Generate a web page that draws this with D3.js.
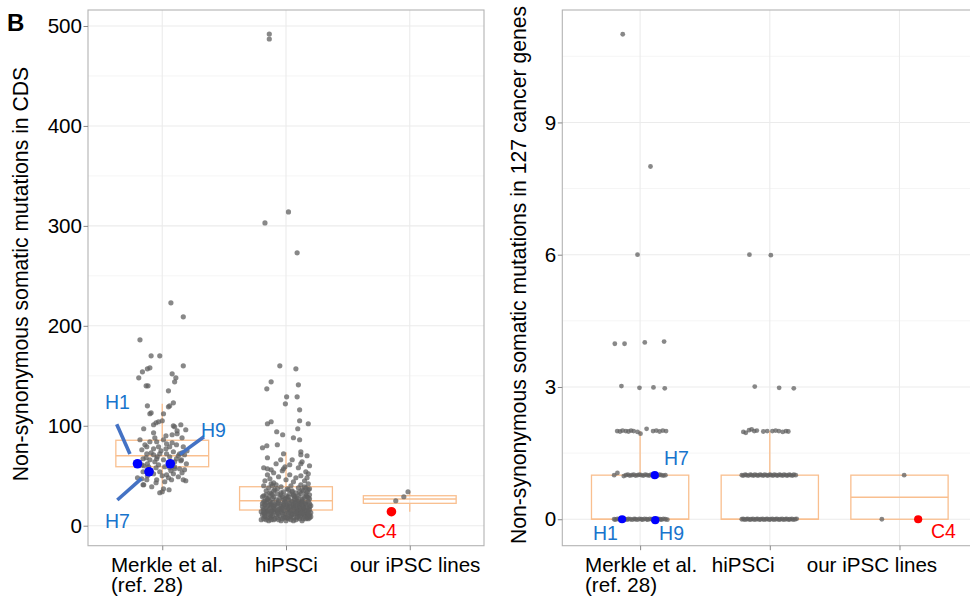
<!DOCTYPE html>
<html><head><meta charset="utf-8">
<script src="https://cdn.jsdelivr.net/npm/d3@7"></script>
<style>
body{margin:0;background:#fff;}
text{font-family:"Liberation Sans", Arial, sans-serif;}
</style></head><body>
<svg id="c" width="970" height="598"></svg>
<script>
// ---------- DATA ----------
const categories = [["Merkle et al.", "(ref. 28)"], ["hiPSCi"], ["our iPSC lines"]];
const cdsTicks = [0, 100, 200, 300, 400, 500];
const cdsMinor = [50, 150, 250, 350, 450];
const cancerTicks = [0, 3, 6, 9];
const cancerMinor = [1.5, 4.5, 7.5, 10.5];

// box stats: [lower whisker, Q1, median, Q3, upper whisker]
const cdsBox = [[33, 59, 70, 85.5, 122], [5, 15.7, 25, 39, 73.5], [14, 22.4, 26.7, 30, 34]];
const cancerBox = [[0, 0, 0, 1, 2], [0, 0, 0, 1, 2], [0, 0, 0.5, 1, 1]];

// CDS panel points: [count, jitter]
const merkleCDS = [
[223,0.07],[209,0.17],[186,-0.18],[170,-0.09],[170,-0.02],[160,0.17],[158,-0.1],[157,-0.12],[154,-0.16],[152,0.08],
[148,-0.19],[148,0.11],[144,0.10],[140,-0.13],[140,-0.115],[135,0.05],[123,0.09],[120,-0.12],[119,0.05],[120,0.06],
[113,-0.09],[112,0.01],[112,-0.1],[105,0.0],[104,-0.03],[103,-0.05],[101,-0.07],[101,0.15],[100,0.09],[97,-0.15],
[99,0.10],[96,0.19],[93,-0.07],[92,0.12],[91,0.08],[95,0.12],
[86,-0.18],[84,-0.10],[84,-0.045],[86,0.01],[82,0.035],[79,-0.125],[77,-0.07],[79,-0.03],[79,0.06],[81,0.115],
[79,0.17],[76,-0.165],[72,-0.125],[71,-0.07],[72,-0.02],[72,0.035],[74,0.09],[72,0.14],[71,0.18],[67,-0.155],
[66,-0.10],[67,-0.045],[66,0.01],[67,0.115],[66,0.155],[62,0.195],[61,-0.165],[59,-0.11],[61,-0.03],[59,0.02],
[59,0.10],[57,0.14],[56,0.18],[54,-0.155],[52,-0.07],[54,-0.02],[51,0.035],[52,0.09],[49,0.13],[47,-0.165],
[46,-0.125],[46,-0.045],[44,0.02],[46,0.075],[46,0.17],[41,-0.155],[39,-0.085],[37,0.01],[36,0.055],[33,-0.02],
[41,-0.15],[45,0.19],[34,0.0],[88,-0.06],[83,0.08],[75,-0.01],[69,0.06],[64,-0.06],[63,0.05],[68,-0.13],
[58,-0.05],[55,0.07],[50,-0.12],[48,0.05],[43,-0.05],[70,0.13],[65,0.15],[60,-0.15],[57,0.10],[53,0.16],
[75,0.2],[63,-0.19],[48,-0.2],[90,0.03],[88,0.16],[77,0.03],[73,-0.09],[69,-0.04],[64,0.1],[58,0.06],
[55,-0.09],[50,0.0],[62,-0.12],[81,-0.14],[73,0.16]
];
const hipsciCDS = [
[492,-0.135],[487,-0.135],[303,-0.17],[314,0.02],[273,0.09],
[160,-0.05],[157,0.08],[144,-0.12],[137,-0.155],[141,0.10],[129,0.005],[129,0.09],[122,-0.005],[116,0.11],[105,0.11],
[102,0.18],[104,-0.12],[102,-0.15],[94,-0.075],[91,-0.027],[97,0.095],[88,0.06],[86,0.11],[80,-0.155],[78,-0.19],
[81,-0.07],[74,0.12],[71,0.12],[66,-0.043],[61,0.03],[59,-0.008],[57,-0.02],[62,0.12],[57,-0.15],
[62,-0.08],[64,0.13],[66,0.05],[68,-0.15],[70,0.17],[72,-0.02],[60,0.19],[58,-0.18],
[5,-0.14],[6,-0.1],[5,-0.04],[7,0.02],[6,0.08],[5,0.13],[8,0.17],[7,-0.18],[8,-0.07],[6,0.04],
[9,-0.12],[7,0.11],[8,0.19],[9,-0.02],[6,-0.16],[8,0.06],[7,-0.09],[9,0.15],[5,0.0],[8,-0.13],
[7,0.18],[9,0.09],[6,-0.06],[8,0.01],[7,0.14],[9,-0.17],[10,-0.05],[10,0.12],[10,0.04],[10,-0.11],
[11,-0.19],[11,-0.08],[12,0.0],[11,0.1],[12,0.17],[13,-0.15],[13,-0.03],[12,0.07],[14,0.13],[13,0.2],
[14,-0.1],[15,-0.18],[14,0.03],[15,0.09],[16,-0.06],[15,0.16],[16,0.01],[11,0.05],[12,-0.12],[13,0.11],
[14,-0.16],[15,-0.02],[16,0.19],[12,0.14],[13,-0.07],[14,0.07],[16,-0.14],[15,0.04],[11,0.15],[12,-0.17],
[13,0.02],[14,-0.04],[16,0.1],[15,-0.11],[11,-0.01],[13,0.17],[16,-0.09],[14,0.18],[12,0.09],[15,-0.15],
[17,-0.18],[17,-0.05],[18,0.06],[17,0.14],[18,-0.12],[19,0.0],[19,0.19],[20,-0.15],[20,-0.02],[19,0.1],
[21,0.16],[21,-0.09],[22,0.03],[22,-0.19],[23,0.12],[23,-0.06],[24,0.18],[24,-0.13],[18,0.11],[20,0.08],
[21,0.01],[22,0.15],[23,-0.16],[24,0.05],[17,0.02],[18,-0.03],[19,-0.1],[20,0.2],[21,-0.17],[22,-0.07],
[23,0.07],[24,-0.01],[17,0.09],[19,0.14],[20,-0.08],[22,0.11],[24,0.13],[18,-0.16],[21,0.06],[23,0.0],
[18,0.17],[20,0.03],[22,-0.12],[19,-0.04],[21,-0.13],
[25,-0.17],[25,0.04],[26,0.13],[26,-0.08],[27,0.19],[27,-0.01],[28,-0.14],[28,0.09],[29,0.02],[29,-0.1],
[30,0.16],[30,-0.18],[31,0.06],[31,-0.04],[32,0.12],[32,-0.12],[25,0.1],[26,-0.15],[27,0.07],[28,-0.05],
[29,0.17],[30,0.0],[31,-0.16],[32,0.03],[26,0.02],[27,-0.11],[28,0.15],[29,-0.19],[30,0.1],[31,0.19],
[25,-0.06],[27,0.13],[29,0.07],[32,-0.07],[28,0.01],
[33,-0.13],[33,0.08],[34,0.17],[34,-0.02],[35,-0.16],[35,0.05],[36,0.13],[36,-0.09],[37,0.01],[37,0.19],
[38,-0.14],[38,0.1],[39,-0.04],[39,0.15],[40,-0.18],[40,0.04],[41,0.12],[41,-0.08],[42,0.18],[42,-0.12],
[34,0.11],[36,0.02],[38,0.16],[40,-0.11],[35,0.14],
[43,-0.1],[44,0.06],[45,-0.17],[45,0.15],[46,0.0],[47,-0.13],[48,0.17],[48,0.08],[49,-0.06],[50,0.12],
[51,-0.15],[51,0.03],[53,-0.1],[54,0.16],[55,-0.03],[52,0.18],[56,-0.12],[58,0.1],
[6,-0.2],[7,-0.03],[8,0.09],[9,0.2],[5,0.06],[6,-0.12],[7,0.16],[8,-0.15],[9,0.03],[10,0.18],
[11,-0.13],[12,0.04],[13,-0.18],[14,0.1],[15,-0.07],[16,0.15],[11,0.19],[12,-0.06],[13,0.08],[14,-0.2],
[15,0.12],[16,-0.03],[17,-0.1],[18,0.14],[19,-0.19],[20,0.11],[21,-0.04],[22,0.19],[23,-0.11],[24,0.09],
[17,0.18],[18,0.01],[19,0.06],[20,-0.12],[21,0.13],[22,-0.02],[23,0.16],[24,-0.18],[26,0.08],[27,-0.15],
[28,0.18],[29,-0.03],[30,0.06],[31,-0.11],[32,0.16],[33,-0.04],[34,0.05],[35,-0.1],[36,0.18],[37,-0.07],
[13,0.13],[10,-0.17],[8,-0.01],[12,0.12],[19,0.04],[26,-0.02],[14,-0.12],[9,0.11],[16,0.06],[22,0.08]
];
const oursCDS = [[25,-0.113],[29,-0.048],[34,-0.014]];
const cdsHighlights = [
  {label:"H1", cat:1, count:62, jit:-0.2,   color:"#0000ff", r:4.8},
  {label:"H7", cat:1, count:54, jit:-0.107, color:"#0000ff", r:4.8},
  {label:"H9", cat:1, count:62, jit:0.065,  color:"#0000ff", r:4.8},
  {label:"C4", cat:3, count:14, jit:-0.148, color:"#ff0000", r:4.8}
];
// annotation text & leader lines in data units (x: category axis, y: value)
const cdsLabels = [
  {text:"H1", x:0.537, y:116.5, color:"#1874CD"},
  {text:"H9", x:1.313, y:89,    color:"#1874CD"},
  {text:"H7", x:0.537, y:-2.6,  color:"#1874CD"},
  {text:"C4", x:2.695, y:-12.6, color:"#ff0000"}
];
const cdsLeaders = [
  [[0.632,101.5],[0.739,71.7]],
  [[1.337,89],[1.143,71.4]],
  [[0.637,25.7],[0.834,47.4]]
];

// cancer-gene panel points: [count, jitterX, jitterY]
const merkleCancer = [
[11,-0.134,0],[8,0.08,0],[6,-0.02,0],
[4,-0.195,-0.02],[4,-0.12,-0.02],[4,0.036,0.01],[4,0.185,0.03],
[3,-0.144,0.02],[3,-0.005,-0.02],[3,0.103,-0.01],[3,0.19,-0.03],
[2,-0.177,0],[2,-0.155,-0.01],[2,-0.135,0.01],[2,-0.11,0],[2,-0.09,-0.01],[2,-0.07,0.01],[2,-0.05,0],[2,-0.02,-0.02],
[2,0.003,-0.06],[2,0.05,0.05],[2,0.1,0],[2,0.125,0.01],[2,0.15,-0.01],[2,0.175,0.01],[2,0.2,0],
[1,-0.2,0],[1,-0.175,0.05],[1,-0.126,-0.02],[1,-0.11,0],[1,-0.095,0.01],[1,-0.08,-0.01],[1,-0.065,0],[1,-0.05,0.01],
[1,-0.035,-0.01],[1,-0.02,0],[1,-0.005,0.01],[1,0.01,0],[1,0.025,-0.01],[1,0.04,0.01],[1,0.055,0],[1,0.07,-0.01],
[1,0.085,0.01],[1,0.1,0],[1,0.135,-0.01],[1,0.15,0.01],[1,0.165,0],[1,0.18,-0.01],[1,0.195,0],
[0,-0.2,0],[0,-0.19,-0.01],[0,-0.175,0.01],[0,-0.16,0],[0,-0.15,-0.01],[0,-0.125,0.01],[0,-0.115,0],[0,-0.1,-0.01],
[0,-0.09,0.01],[0,-0.075,0],[0,-0.06,-0.01],[0,-0.045,0.01],[0,-0.035,0],[0,-0.02,-0.01],[0,-0.005,0.01],[0,0.01,0],
[0,0.02,-0.01],[0,0.035,0.01],[0,0.05,0],[0,0.06,-0.01],[0,0.075,0.01],[0,0.09,0],[0,0.1,-0.01],[0,0.14,0.01],
[0,0.155,0],[0,0.165,-0.01],[0,0.18,0.01],[0,0.195,0],[0,0.21,-0.01]
];
const hipsciCancer = [
[6,-0.157,0],[6,0.008,-0.01],
[3,-0.116,0.01],[3,0.072,-0.02],[3,0.185,-0.03],
[2,-0.204,-0.02],[2,-0.185,-0.04],[2,-0.16,0.02],[2,-0.14,0.04],[2,-0.12,0],[2,-0.1,0.01],[2,-0.05,-0.01],[2,-0.02,0],
[2,0.02,0.0],[2,0.045,0.01],[2,0.07,0],[2,0.1,-0.02],[2,0.125,0],[2,0.143,-0.01],
[1,-0.216,0],[1,-0.205,-0.01],[1,-0.19,0.01],[1,-0.18,0],[1,-0.165,-0.01],[1,-0.15,0.01],[1,-0.14,0],[1,-0.125,-0.01],
[1,-0.115,0.01],[1,-0.1,0],[1,-0.09,-0.01],[1,-0.075,0.01],[1,-0.065,0],[1,-0.05,-0.01],[1,-0.04,0.01],[1,-0.025,0],
[1,-0.015,-0.01],[1,0.0,0.01],[1,0.01,0],[1,0.025,-0.01],[1,0.035,0.01],[1,0.05,0],[1,0.06,-0.01],[1,0.075,0.01],
[1,0.085,0],[1,0.1,-0.01],[1,0.11,0.01],[1,0.125,0],[1,0.135,-0.01],[1,0.15,0.01],[1,0.16,0],[1,0.175,-0.01],
[1,0.185,0.01],[1,0.2,0],
[0,-0.216,0],[0,-0.205,0.01],[0,-0.195,-0.01],[0,-0.18,0],[0,-0.17,0.01],[0,-0.155,-0.01],[0,-0.145,0],[0,-0.13,0.01],
[0,-0.12,-0.01],[0,-0.105,0],[0,-0.095,0.01],[0,-0.08,-0.01],[0,-0.07,0],[0,-0.055,0.01],[0,-0.045,-0.01],[0,-0.03,0],
[0,-0.02,0.01],[0,-0.005,-0.01],[0,0.005,0],[0,0.02,0.01],[0,0.03,-0.01],[0,0.045,0],[0,0.055,0.01],[0,0.07,-0.01],
[0,0.08,0],[0,0.095,0.01],[0,0.105,-0.01],[0,0.12,0],[0,0.13,0.01],[0,0.145,-0.01],[0,0.155,0],[0,0.17,0.01],
[0,0.18,-0.01],[0,0.195,0],[0,0.207,0.01]
];
const oursCancer = [[1,0.036,0],[0,-0.136,0]];
const cancerHighlights = [
  {label:"H1", cat:1, count:0, jit:-0.139, jy:0,     color:"#0000ff", r:4.1},
  {label:"H7", cat:1, count:1, jit:0.113,  jy:0,     color:"#0000ff", r:4.1},
  {label:"H9", cat:1, count:0, jit:0.117,  jy:-0.02, color:"#0000ff", r:4.1},
  {label:"C4", cat:3, count:0, jit:0.144,  jy:0,     color:"#ff0000", r:4.1}
];
const cancerLabels = [
  {text:"H1", x:0.637, y:-0.47, color:"#1874CD"},
  {text:"H7", x:1.184, y:1.23,  color:"#1874CD"},
  {text:"H9", x:1.146, y:-0.47, color:"#1874CD"},
  {text:"C4", x:3.243, y:-0.43, color:"#ff0000"}
];

// ---------- DRAW ----------
const svg = d3.select("#c");
const BOX = "#F9BF8F", PT = "#606060", BORDER = "#b3b3b3";

function panel(cfg) {
  const x = d3.scaleLinear().domain([0.4, 3.6]).range([cfg.left, cfg.right]);
  const y = d3.scaleLinear().domain(cfg.yDomain).range([cfg.bottom, cfg.top]);
  const g = svg.append("g");
  const unit = x(2) - x(1);

  g.selectAll(".mn").data(cfg.minor).join("line")
    .attr("x1", cfg.left).attr("x2", cfg.right)
    .attr("y1", d => y(d)).attr("y2", d => y(d))
    .attr("stroke", "#f5f5f5").attr("stroke-width", 1);
  g.selectAll(".mj").data(cfg.ticks).join("line")
    .attr("x1", cfg.left).attr("x2", cfg.right)
    .attr("y1", d => y(d)).attr("y2", d => y(d))
    .attr("stroke", "#ebebeb").attr("stroke-width", 1.1);
  g.selectAll(".vx").data([1, 2, 3]).join("line")
    .attr("x1", d => x(d)).attr("x2", d => x(d))
    .attr("y1", cfg.top).attr("y2", cfg.bottom)
    .attr("stroke", "#ebebeb").attr("stroke-width", 1.1);

  // boxes
  cfg.box.forEach((b, i) => {
    const cx = x(i + 1), hw = unit * 0.375;
    const bg = g.append("g").attr("stroke", BOX).attr("fill", "none").attr("stroke-width", 1.3);
    bg.append("line").attr("x1", cx).attr("x2", cx).attr("y1", y(b[3])).attr("y2", y(b[4]));
    bg.append("line").attr("x1", cx).attr("x2", cx).attr("y1", y(b[1])).attr("y2", y(b[0]));
    bg.append("rect").attr("x", cx - hw).attr("width", 2 * hw)
      .attr("y", y(b[3])).attr("height", Math.max(0.01, y(b[1]) - y(b[3])));
    bg.append("line").attr("x1", cx - hw).attr("x2", cx + hw).attr("y1", y(b[2])).attr("y2", y(b[2])).attr("stroke-width", 1.6);
  });

  // points
  cfg.points.forEach((arr, i) => {
    g.append("g").selectAll("circle").data(arr).join("circle")
      .attr("cx", d => x(i + 1 + d[1]))
      .attr("cy", d => y(d[0] + (d[2] || 0)))
      .attr("r", cfg.pr).attr("fill", PT).attr("fill-opacity", 0.75);
  });

  // leaders
  g.selectAll(".ld").data(cfg.leaders || []).join("line")
    .attr("x1", d => x(d[0][0])).attr("y1", d => y(d[0][1]))
    .attr("x2", d => x(d[1][0])).attr("y2", d => y(d[1][1]))
    .attr("stroke", "#4472C4").attr("stroke-width", 3.6);

  // highlighted
  g.selectAll(".hl").data(cfg.highlights).join("circle")
    .attr("cx", d => x(d.cat + d.jit)).attr("cy", d => y(d.count + (d.jy || 0)))
    .attr("r", d => d.r).attr("fill", d => d.color);

  g.selectAll(".lb").data(cfg.labels).join("text")
    .attr("x", d => x(d.x)).attr("y", d => y(d.y))
    .attr("fill", d => d.color).attr("font-size", 19.5).text(d => d.text);

  // border
  g.append("rect").attr("x", cfg.left).attr("y", cfg.top)
    .attr("width", cfg.right - cfg.left).attr("height", cfg.bottom - cfg.top)
    .attr("fill", "none").attr("stroke", BORDER).attr("stroke-width", 1.1);

  // y axis
  const ya = g.append("g").attr("transform", `translate(${cfg.left},0)`)
    .call(d3.axisLeft(y).tickValues(cfg.ticks).tickSize(4.5).tickPadding(1.5));
  ya.select(".domain").remove();
  ya.selectAll("line").attr("stroke", "#888");
  ya.selectAll("text").attr("font-size", 20.6).attr("fill", "#000")
    .attr("font-family", "Liberation Sans, Arial, sans-serif");

  // x axis
  const xa = g.append("g").attr("transform", `translate(0,${cfg.bottom})`)
    .call(d3.axisBottom(x).tickValues([1, 2, 3]).tickSize(4.5).tickFormat(""));
  xa.select(".domain").remove();
  xa.selectAll("line").attr("stroke", "#888");
  categories.forEach((lines, i) => {
    lines.forEach((l, k) => g.append("text").attr("font-size", 20.6).attr("fill", "#000")
      .attr("x", x(i + 1) + cfg.labelShift[i])
      .attr("y", cfg.bottom + 25.8 + k * 20.2).text(l));
  });

  // title
  g.append("text").attr("transform", `translate(${cfg.titleX},${cfg.titleY}) rotate(-90)`)
    .attr("text-anchor", "middle").attr("font-size", 21.2).attr("fill", "#000").text(cfg.title);
}

panel({
  left: 88, right: 484, top: 10, bottom: 545.7, yDomain: [-20, 516],
  ticks: cdsTicks, minor: cdsMinor, box: cdsBox,
  points: [merkleCDS, hipsciCDS, oursCDS], pr: 2.6,
  highlights: cdsHighlights, labels: cdsLabels, leaders: cdsLeaders,
  labelShift: [-51.3, -31, -59.8],
  title: "Non-synonymous somatic mutations in CDS", titleX: 28, titleY: 274
});
panel({
  left: 562.3, right: 977.3, top: 10, bottom: 545.7, yDomain: [-0.6, 11.55],
  ticks: cancerTicks, minor: cancerMinor, box: cancerBox,
  points: [merkleCancer, hipsciCancer, oursCancer], pr: 2.4,
  highlights: cancerHighlights, labels: cancerLabels, leaders: [],
  labelShift: [-55.1, -58.1, -92.8],
  title: "Non-synonymous somatic mutations in 127 cancer genes", titleX: 526, titleY: 275
});

svg.append("text").attr("x", 7).attr("y", 30.7).attr("font-size", 24).attr("font-weight", "bold")
  .attr("fill", "#000").text("B");
</script></body></html>
